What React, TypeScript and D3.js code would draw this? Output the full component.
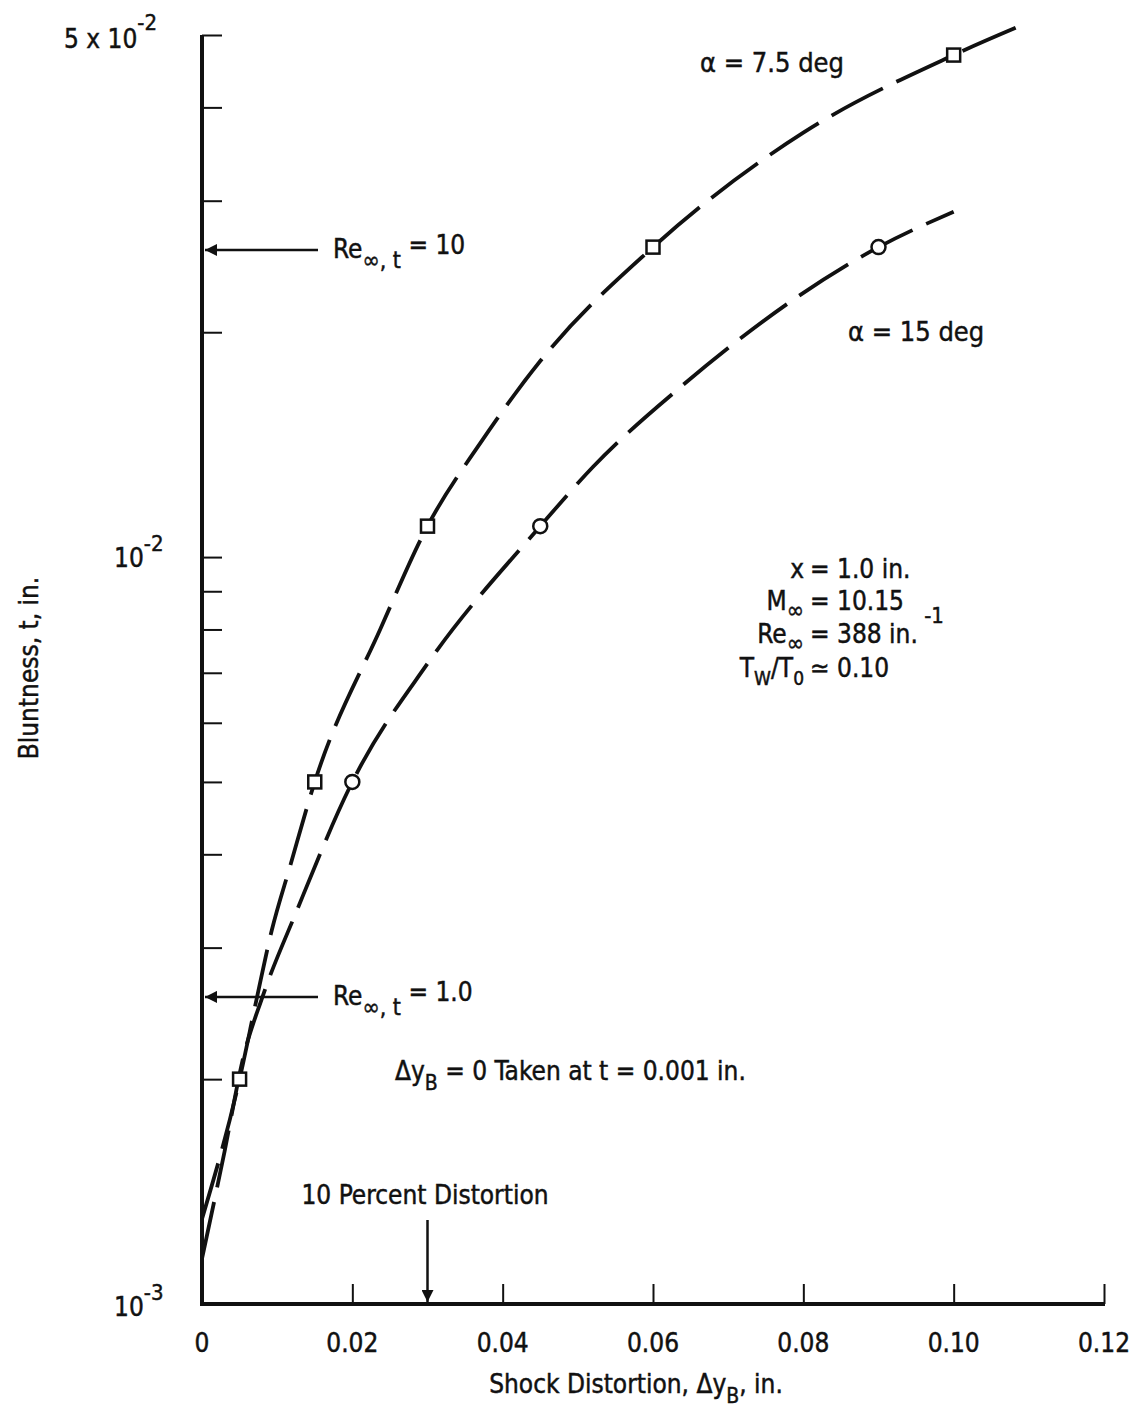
import { useEffect, useRef } from "react";
import * as d3 from "d3";

// axis ticks
const xTickValues = [0, 0.02, 0.04, 0.06, 0.08, 0.1, 0.12];
const xTickLabels = ["0", "0.02", "0.04", "0.06", "0.08", "0.10", "0.12"];
const yTickValues = [0.002, 0.003, 0.004, 0.005, 0.006, 0.007, 0.008, 0.009, 0.01, 0.02, 0.03, 0.04, 0.05];

// measured points (shock distortion in., bluntness in.)
const alpha75Points: [number, number][] = [
  [0.005, 0.002],
  [0.015, 0.005],
  [0.03, 0.011],
  [0.06, 0.026],
  [0.1, 0.047],
];
const alpha15Points: [number, number][] = [
  [0.02, 0.005],
  [0.045, 0.011],
  [0.09, 0.026],
];

// faired dashed curves
const alpha75Curve: [number, number][] = [
  [0, 0.0013],
  [0.005, 0.002],
  [0.0073, 0.00257],
  [0.0093, 0.00317],
  [0.0117, 0.00385],
  [0.015, 0.005],
  [0.0237, 0.008],
  [0.03, 0.011],
  [0.037, 0.0142],
  [0.045, 0.0183],
  [0.06, 0.026],
  [0.08, 0.037],
  [0.1, 0.047],
  [0.11, 0.052],
];
const alpha15Curve: [number, number][] = [
  [0, 0.00115],
  [0.003, 0.0016],
  [0.0055, 0.00214],
  [0.008, 0.00257],
  [0.0126, 0.00336],
  [0.02, 0.005],
  [0.03, 0.0072],
  [0.045, 0.011],
  [0.052, 0.0132],
  [0.064, 0.017],
  [0.09, 0.026],
  [0.1, 0.029],
];

// Reynolds-number arrows: t = Re_t / Re_inf
const reInf = 388;
const reArrows = [10, 1.0];
const reArrowLabels = ["10", "1.0"];
const distortionMark = 0.03;

const FONT = "'DejaVu Sans Condensed', 'Liberation Sans Narrow', 'DejaVu Sans', sans-serif";

type Part = [string, number, number?];

function rich(
  g: d3.Selection<SVGGElement, unknown, null, undefined>,
  x: number,
  y: number,
  parts: Part[],
  anchor = "start",
  size = 26
) {
  const t = g.append("text")
    .attr("x", x)
    .attr("y", y)
    .attr("text-anchor", anchor)
    .attr("font-family", FONT)
    .attr("font-stretch", "condensed")
    .attr("font-size", size)
    .attr("fill", "#111")
    .attr("stroke", "#111")
    .attr("stroke-width", 0.45);
  let cur = 0;
  parts.forEach(([s, off, sz]) => {
    t.append("tspan")
      .attr("dy", off - cur)
      .attr("font-size", sz ?? size)
      .text(s);
    cur = off;
  });
  return t;
}

export default function App() {
  const svgRef = useRef<SVGSVGElement>(null);

  useEffect(() => {
    if (!svgRef.current) return;
    d3.select(svgRef.current).selectAll("*").remove();
    const svg = d3.select(svgRef.current);
    const g = svg.append("g") as d3.Selection<SVGGElement, unknown, null, undefined>;

    const x = d3.scaleLinear().domain([0, 0.12]).range([202, 1104]);
    const y = d3.scaleLog().domain([0.001, 0.05]).range([1304, 35]);

    const ink = "#111";

    // arrowhead marker
    svg.append("defs").append("marker")
      .attr("id", "arrow")
      .attr("viewBox", "0 0 10 10")
      .attr("refX", 10)
      .attr("refY", 5)
      .attr("markerWidth", 22)
      .attr("markerHeight", 12)
      .attr("markerUnits", "userSpaceOnUse")
      .attr("orient", "auto")
      .append("path")
      .attr("d", "M0,0 L10,5 L0,10 Z")
      .attr("fill", ink);

    // y ticks (inward, to the right)
    g.append("g")
      .attr("transform", `translate(${x(0)},0)`)
      .call(d3.axisRight(y).tickValues(yTickValues).tickSize(20).tickFormat(() => ""))
      .call(s => s.select(".domain").remove())
      .selectAll("line")
      .attr("stroke", ink)
      .attr("stroke-width", 2);

    // x ticks (inward, upward)
    g.append("g")
      .attr("transform", `translate(0,${y(0.001)})`)
      .call(d3.axisTop(x).tickValues(xTickValues.slice(1)).tickSize(20).tickFormat(() => ""))
      .call(s => s.select(".domain").remove())
      .selectAll("line")
      .attr("stroke", ink)
      .attr("stroke-width", 2);

    // axis lines
    g.append("line")
      .attr("x1", x(0)).attr("x2", x(0))
      .attr("y1", y(0.05)).attr("y2", y(0.001) + 2)
      .attr("stroke", ink).attr("stroke-width", 4);
    g.append("line")
      .attr("x1", x(0) - 2).attr("x2", x(0.12) + 1)
      .attr("y1", y(0.001)).attr("y2", y(0.001))
      .attr("stroke", ink).attr("stroke-width", 4);

    // x tick labels
    xTickValues.forEach((v, i) => {
      rich(g, x(v), 1352, [[xTickLabels[i], 0]], "middle", 26);
    });

    // y tick labels
    rich(g, 64, 48, [["5 x 10", 0], ["-2", -18, 22]]);
    rich(g, 114, y(0.01) + 10, [["10", 0], ["-2", -16, 22]]);
    rich(g, 114, y(0.001) + 12, [["10", 0], ["-3", -16, 22]]);

    // axis titles
    rich(g, 0, 0, [["Bluntness, t, in.", 0]], "middle", 26)
      .attr("transform", "translate(38,668) rotate(-90)");
    rich(g, 636, 1393, [["Shock Distortion, \u0394y", 0], ["B", 10, 21], [",  in.", 0]], "middle", 26);

    // dashed curves
    const line = d3.line<[number, number]>()
      .x(d => x(d[0]))
      .y(d => y(d[1]))
      .curve(d3.curveMonotoneX);

    [alpha75Curve, alpha15Curve].forEach(c => {
      g.append("path")
        .datum(c)
        .attr("fill", "none")
        .attr("stroke", ink)
        .attr("stroke-width", 3.8)
        .attr("stroke-dasharray", "58,15")
        .attr("d", line);
    });

    // markers
    g.selectAll(".sq")
      .data(alpha75Points)
      .join("rect")
      .attr("x", d => x(d[0]) - 6.5)
      .attr("y", d => y(d[1]) - 6.5)
      .attr("width", 13)
      .attr("height", 13)
      .attr("fill", "white")
      .attr("stroke", ink)
      .attr("stroke-width", 2.5);

    g.selectAll(".ci")
      .data(alpha15Points)
      .join("circle")
      .attr("cx", d => x(d[0]))
      .attr("cy", d => y(d[1]))
      .attr("r", 7)
      .attr("fill", "white")
      .attr("stroke", ink)
      .attr("stroke-width", 2.5);

    // curve labels
    rich(g, 700, 72, [["\u03b1  = 7.5 deg", 0]], "start", 27);
    rich(g, 848, 341, [["\u03b1  = 15 deg", 0]], "start", 27);

    // Reynolds arrows
    reArrows.forEach((re, i) => {
      const yy = y(re / reInf);
      g.append("line")
        .attr("x1", 318).attr("x2", x(0) + 3)
        .attr("y1", yy).attr("y2", yy)
        .attr("stroke", ink).attr("stroke-width", 2.5)
        .attr("marker-end", "url(#arrow)");
      rich(g, 333, yy + 8, [["Re", 0], ["\u221e, t", 10, 23], [" = " + reArrowLabels[i], -4]]);
    });

    // 10 percent distortion arrow
    g.append("line")
      .attr("x1", x(distortionMark)).attr("x2", x(distortionMark))
      .attr("y1", 1220).attr("y2", y(0.001) - 2)
      .attr("stroke", ink).attr("stroke-width", 2.5)
      .attr("marker-end", "url(#arrow)");
    rich(g, 425, 1204, [["10 Percent Distortion", 0]], "middle");

    rich(g, 395, 1080, [["\u0394y", 0], ["B", 10, 21], [" = 0 Taken at t = 0.001 in.", 0]]);

    // flow conditions block, aligned on the equals signs
    const eqX = 810;
    rich(g, eqX - 6, 578, [["x", 0]], "end");
    rich(g, eqX, 578, [["= 1.0 in.", 0]]);
    rich(g, eqX - 6, 610, [["M", 0], ["\u221e", 8, 23]], "end");
    rich(g, eqX, 610, [["= 10.15", 0]]);
    rich(g, eqX - 6, 643, [["Re", 0], ["\u221e", 8, 23]], "end");
    rich(g, eqX, 643, [["= 388 in.", 0], [" -1", -20, 22]]);
    rich(g, eqX - 6, 677, [["T", 0], ["W", 8, 19], ["/T", 0], ["0", 8, 19]], "end");
    rich(g, eqX, 677, [["\u2243 0.10", 0]]);
  }, []);

  return (
    <svg
      ref={svgRef}
      width={1144}
      height={1410}
      viewBox="0 0 1144 1410"
      style={{ position: "absolute", left: 0, top: 0, background: "white" }}
    />
  );
}
